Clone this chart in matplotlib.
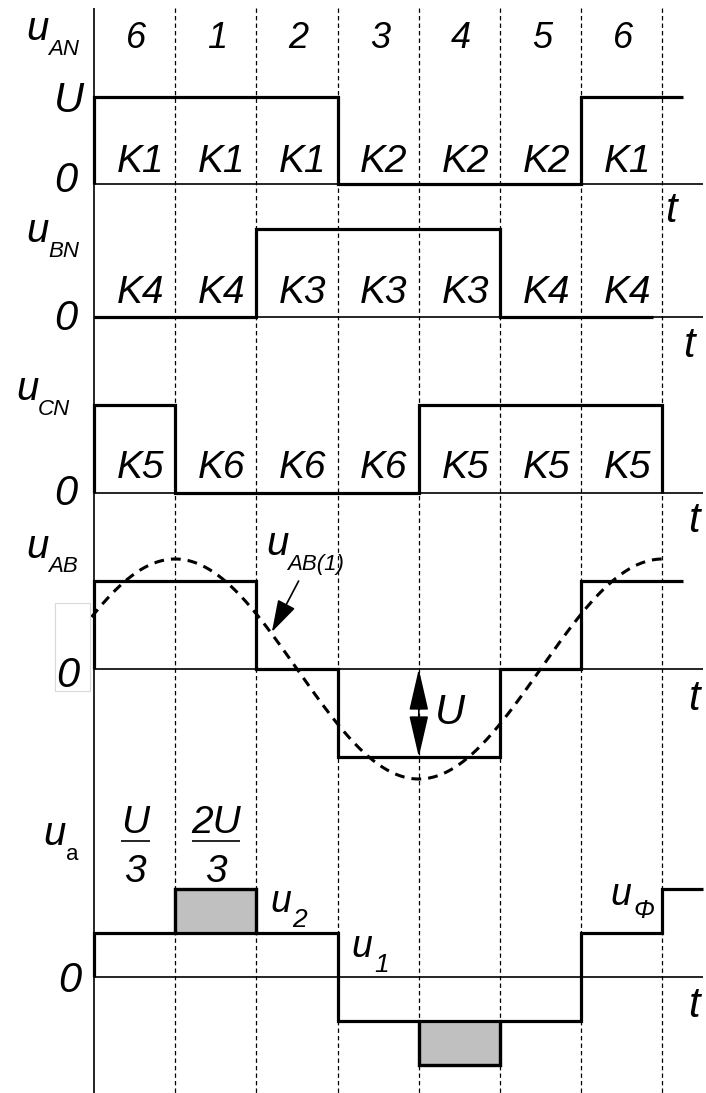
import numpy as np
import matplotlib.pyplot as plt
from matplotlib.patches import Rectangle

plt.rcParams['font.family'] = ['Liberation Sans', 'DejaVu Sans']
plt.rcParams['font.style'] = 'italic'

#--- DATA ---------------------------------------------------------------------+

sectors = ['6', '1', '2', '3', '4', '5', '6']
edges = [0, 1, 2, 3, 4, 5, 6, 7]

# phase voltages (units of U) and the switch that is on in each sector
u_an = [1, 1, 1, 0, 0, 0, 1]
k_an = ['K1', 'K1', 'K1', 'K2', 'K2', 'K2', 'K1']
u_bn = [0, 0, 1, 1, 1, 0, 0]
k_bn = ['K4', 'K4', 'K3', 'K3', 'K3', 'K4', 'K4']
u_cn = [1, 0, 0, 0, 1, 1, 1]
k_cn = ['K5', 'K6', 'K6', 'K6', 'K5', 'K5', 'K5']

# line voltage and its first harmonic
u_ab = [1, 1, 0, -1, -1, 0, 1]
ab1_amp = 1.25
ab1_peak = 1.0
ab1_period = 6.0

# load phase voltage
u_a = [1/3, 2/3, 1/3, -1/3, -2/3, -1/3, 1/3, 2/3]
u_a_edges = [0, 1, 2, 3, 4, 5, 6, 7, 7.5]
shaded = [1, 4]  # sectors where u_a = 2U/3 (u2 part)

#--- LAYOUT -------------------------------------------------------------------+

W, H = 706, 1093
X0, SEG = 94, 81.2          # left axis position and sector width, px
XL, XR = -X0 / SEG, (W - X0) / SEG

fig = plt.figure(figsize=(W / 100, H / 100), dpi=100)

THICK = 2.3
THIN = 1.2
KSIZE = 28
BIG = 30


def panel(zero_px, ppu):
    ax = fig.add_axes([0, 0, 1, 1])
    ax.set_xlim(XL, XR)
    ax.set_ylim(-(H - zero_px) / ppu, zero_px / ppu)
    ax.axis('off')
    ax.patch.set_alpha(0)
    return ax


def put(x, y, s, size=BIG, **kw):
    # text placed by pixel position (from top-left)
    kw.setdefault('ha', 'left')
    kw.setdefault('va', 'baseline')
    fig.text(x / W, 1 - y / H, s, fontsize=size, **kw)


def wave(ax, levels, xs, end_x=None, drop=False):
    px, py = [xs[0]], [0]
    for i, lv in enumerate(levels):
        px += [xs[i], xs[i + 1]]
        py += [lv, lv]
    if end_x is not None:
        px[-1] = end_x
    if drop:
        px.append(px[-1])
        py.append(0)
    ax.plot(px, py, color='black', lw=THICK, solid_joinstyle='miter',
            solid_capstyle='butt')


# background: left axis and dashed sector lines
bg = fig.add_axes([0, 0, 1, 1])
bg.set_xlim(XL, XR)
bg.set_ylim(H, 0)
bg.axis('off')
bg.vlines(0, 8, H, color='black', lw=THIN)
bg.vlines(edges[1:], 8, H, color='black', lw=0.9, linestyles=(0, (3.5, 2.5)))

for i, s in enumerate(sectors):
    bg.text(i + 0.52, 48, s, fontsize=26, ha='center', va='baseline')

# u_AN
ax1 = panel(184, 87)
ax1.hlines(0, 0, 7.5, color='black', lw=THIN)
wave(ax1, u_an, edges, end_x=7.25)
for i, k in enumerate(k_an):
    ax1.text(i + 0.57, 0.14, k, fontsize=KSIZE, ha='center', va='baseline')
put(26, 40, 'u', 29)
put(48, 55, 'AN', 16)
put(54, 112, 'U')
put(54, 192, '0')
put(665, 222, 't')

# u_BN
ax2 = panel(317, 88)
ax2.hlines(0, 0, 7.5, color='black', lw=THIN)
wave(ax2, u_bn, edges, end_x=6.88)
for i, k in enumerate(k_bn):
    ax2.text(i + 0.57, 0.16, k, fontsize=KSIZE, ha='center', va='baseline')
put(26, 242, 'u', 29)
put(48, 257, 'BN', 16)
put(54, 330, '0')
put(683, 357, 't')

# u_CN
ax3 = panel(493, 88)
ax3.hlines(0, 0, 7.5, color='black', lw=THIN)
wave(ax3, u_cn, edges, drop=True)
for i, k in enumerate(k_cn):
    ax3.text(i + 0.57, 0.17, k, fontsize=KSIZE, ha='center', va='baseline')
put(16, 400, 'u', 29)
put(38, 415, 'CN', 16)
put(54, 505, '0')
put(688, 532, 't')

# u_AB with its first harmonic
ax4 = panel(669, 88)
ax4.hlines(0, 0, 7.5, color='black', lw=THIN)
wave(ax4, u_ab, edges, end_x=7.25)
xs = np.linspace(-0.03, 7.03, 400)
ax4.plot(xs, ab1_amp * np.cos(2 * np.pi * (xs - ab1_peak) / ab1_period),
         color='black', lw=2.2, dashes=(3.2, 2.3))
ax4.annotate('', xy=(2.19, 0.42), xytext=(2.52, 1.0),
             arrowprops=dict(arrowstyle='-|>,head_length=1.0,head_width=0.3',
                             color='black', lw=1.2, mutation_scale=20,
                             shrinkA=0, shrinkB=0))
ax4.annotate('', xy=(4, 0), xytext=(4, -1),
             arrowprops=dict(arrowstyle='<|-|>,head_length=1.3,head_width=0.3',
                             color='black', lw=1.2, mutation_scale=20,
                             shrinkA=0, shrinkB=0))
ax4.text(4.2, -0.62, 'U', fontsize=BIG, ha='left', va='baseline')
put(266, 555, 'u', 29)
put(287, 570, 'AB(1)', 16)
put(26, 558, 'u', 29)
put(48, 572, 'AB', 16)
fig.patches.append(Rectangle((55 / W, 1 - 691 / H), 35 / W, 88 / H,
                             transform=fig.transFigure, fill=False,
                             edgecolor='#d8d8d8', lw=0.8))
put(56, 687, '0')
put(688, 710, 't')

# u_a
ax5 = panel(977, 132)
ax5.hlines(0, 0, 7.5, color='black', lw=THIN)
for i in shaded:
    ax5.bar(i + 0.5, u_a[i] - u_a[i - 1], bottom=u_a[i - 1], width=1,
            color='#c0c0c0', edgecolor='black', lw=THICK)
wave(ax5, u_a, u_a_edges)
put(43, 845, 'u', 29)
put(66, 860, 'a', 16, style='normal')
for cx, top in [(135, 'U'), (216, '2U')]:
    put(cx, 833, top, 28, ha='center')
    put(cx, 882, '3', 28, ha='center')
bg.hlines(841, (121 - X0) / SEG, (150 - X0) / SEG, color='black', lw=1.2)
bg.hlines(841, (192 - X0) / SEG, (240 - X0) / SEG, color='black', lw=1.2)
put(270, 912, 'u', 27)
put(292, 927, '2', 19)
put(351, 957, 'u', 27)
put(374, 972, '1', 19)
put(610, 905, 'u', 27)
put(633, 918, 'Φ', 18)
put(58, 992, '0')
put(688, 1017, 't')

plt.savefig('out.png', dpi=100)
